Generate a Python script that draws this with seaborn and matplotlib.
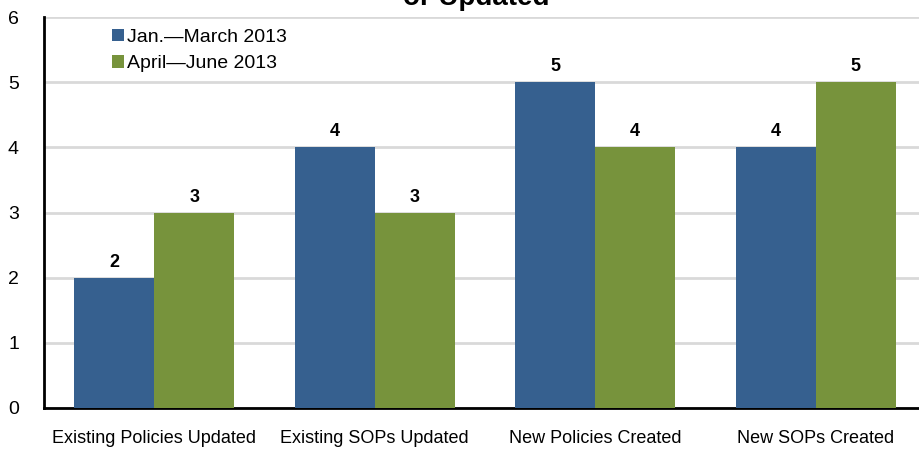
import pandas as pd
import matplotlib
matplotlib.use("Agg")
import matplotlib.pyplot as plt
import seaborn as sns

# Data
categories = ["Existing Policies Updated", "Existing SOPs Updated",
              "New Policies Created", "New SOPs Created"]
jan_mar = [2, 4, 5, 4]
apr_jun = [3, 3, 4, 5]
series_names = ["Jan.\u2014March 2013", "April\u2014June 2013"]
colors = ["#36608F", "#77933C"]

df = pd.DataFrame({
    "category": categories * 2,
    "count": jan_mar + apr_jun,
    "period": [series_names[0]] * 4 + [series_names[1]] * 4,
})

sns.set_style("white")
plt.rcParams["font.family"] = ["Liberation Sans Narrow", "Liberation Sans", "DejaVu Sans"]

fig = plt.figure(figsize=(9.19, 4.5), dpi=100)
ax = fig.add_axes([44 / 919, 42 / 450, 882 / 919, 391 / 450])

sns.barplot(data=df, x="category", y="count", hue="period",
            palette=colors, width=0.725, gap=0, saturation=1,
            edgecolor="none", ax=ax, zorder=3)

ax.set_xlim(-0.5, 3.5)
ax.set_ylim(0, 6)
ax.set_yticks(range(0, 7))
ax.grid(axis="y", color="#D9D9D9", linewidth=2, zorder=0)
ax.set_axisbelow(True)
ax.set_xlabel("")
ax.set_ylabel("")
ax.tick_params(axis="both", length=0, labelcolor="black")
ax.tick_params(axis="x", pad=16, labelsize=13)
ax.tick_params(axis="y", pad=18, labelsize=14)

for side in ["top", "right"]:
    ax.spines[side].set_visible(False)
for side in ["left", "bottom"]:
    ax.spines[side].set_color("black")
    ax.spines[side].set_linewidth(2)

# Values on bars
for container in ax.containers:
    ax.bar_label(container, fmt="%d", padding=5, fontsize=13,
                 fontweight="bold", color="black")

# Legend
leg = ax.legend(loc="upper left", bbox_to_anchor=(0.064, 1.0), frameon=False,
                fontsize=14, handlelength=0.6, handleheight=0.6, handletextpad=0.15,
                labelspacing=0.5, borderaxespad=0.2)
for t in leg.get_texts():
    t.set_color("black")

# Title (partly cut off at top, as in the source image)
fig.text(0.518, 1 - 5 / 450, "or Updated", ha="center", va="baseline",
         fontsize=20, fontweight="bold", color="black",
         family=["Liberation Sans", "DejaVu Sans"])

plt.savefig("out.png", dpi=100)
